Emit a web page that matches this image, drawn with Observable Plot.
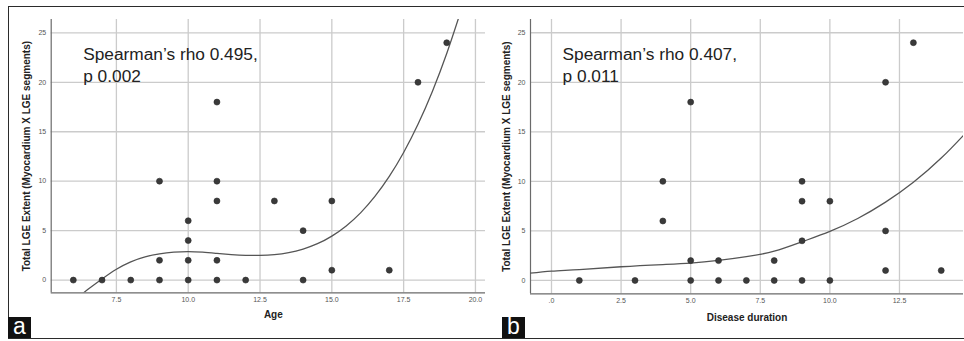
<!DOCTYPE html>
<html>
<head>
<meta charset="utf-8">
<script src="https://cdn.jsdelivr.net/npm/d3@7"></script>
<script src="https://cdn.jsdelivr.net/npm/@observablehq/plot@0.6"></script>
<style>
  html, body { margin: 0; padding: 0; background: #fff; }
  #fig { position: relative; width: 964px; height: 341px; overflow: hidden; font-family: "Liberation Sans", Arial, sans-serif; }
  #frame { position: absolute; left: 8px; top: 6px; width: 970px; height: 331px; border: 1.5px solid #2b2b2b; box-sizing: content-box; }
  .panel { position: absolute; top: 0; }
  .tag { position: absolute; top: 317px; width: 23px; height: 21px; background: #111; color: #fff;
         font: 23px "Liberation Sans", Arial, sans-serif; line-height: 18px; text-align: center; }
</style>
</head>
<body>
<div id="fig">
  <div id="frame"></div>
  <div id="pa" class="panel" style="left:0px"></div>
  <div id="pb" class="panel" style="left:485px"></div>
  <div class="tag" style="left:8px">a</div>
  <div class="tag" style="left:502px">b</div>
</div>
<script>
// ---- data: panel a (Age) ----
const ageX = [6, 7, 8, 9, 9, 9, 10, 10, 10, 10, 11, 11, 11, 11, 11, 12, 13, 14, 14, 15, 15, 17, 18, 19];
const ageY = [0, 0, 0, 0, 2, 10, 0, 2, 4, 6, 0, 2, 8, 10, 18, 0, 8, 0, 5, 1, 8, 1, 20, 24];
const ageFitX = [6.3, 6.5, 7, 7.5, 8, 8.5, 9, 9.5, 10, 10.5, 11, 11.5, 12, 12.5, 13, 13.5, 14, 14.5, 15, 15.5, 16, 16.5, 17, 17.5, 18, 18.5, 19, 19.5];
const ageFitY = [-1.45, -0.95, 0.12, 1.1, 1.85, 2.35, 2.65, 2.82, 2.88, 2.82, 2.7, 2.58, 2.5, 2.5, 2.58, 2.78, 3.14, 3.68, 4.45, 5.48, 6.8, 8.46, 10.48, 12.9, 15.75, 19.08, 22.91, 27.28];
const ageTicks = [7.5, 10, 12.5, 15, 17.5, 20];
const ageTickLabels = ["7.5", "10.0", "12.5", "15.0", "17.5", "20.0"];
const ageDomain = [5.23, 20.35];

// ---- data: panel b (Disease duration) ----
const durX = [1, 3, 4, 4, 5, 5, 5, 6, 6, 7, 8, 8, 9, 9, 9, 9, 10, 10, 12, 12, 12, 13, 14];
const durY = [0, 0, 10, 6, 0, 2, 18, 0, 2, 0, 0, 2, 0, 4, 8, 10, 0, 8, 1, 5, 20, 24, 1];
const durFitX = [-0.8, 0, 1, 2.5, 4, 5, 6, 7, 8, 9, 10, 11, 12, 13, 14, 14.8];
const durFitY = [0.72, 0.94, 1.1, 1.38, 1.6, 1.75, 2.02, 2.4, 2.95, 3.9, 4.95, 6.25, 7.9, 9.9, 12.35, 14.65];
const durTicks = [0, 2.5, 5, 7.5, 10, 12.5];
const durTickLabels = [".0", "2.5", "5.0", "7.5", "10.0", "12.5"];
const durDomain = [-0.754, 14.8];

// ---- shared ----
const yTicks = [0, 5, 10, 15, 20, 25];
const yTickLabels = ["0", "5", "10", "15", "20", "25"];
const yTitle = "Total LGE Extent (Myocardium X LGE segments)";
const notesA = ["Spearman\u2019s rho 0.495,\np 0.002"];
const notesB = ["Spearman\u2019s rho 0.407,\np 0.011"];

const FONT = "'Liberation Sans', Arial, sans-serif";

function panel({xs, ys, fx, fy, xTicks, xLabels, xDomain, yDomain, xTitle, note, width, marginLeft, marginRight, marginBottom, titleDx, titleDy}) {
  const pts = xs.map((x, i) => ({x, y: ys[i]}));
  const fit = fx.map((x, i) => ({x, y: fy[i]}));
  return Plot.plot({
    width, height: 341,
    marginTop: 19, marginBottom, marginLeft, marginRight,
    style: {fontFamily: FONT, background: "transparent", overflow: "visible"},
    x: {domain: xDomain},
    y: {domain: yDomain},
    marks: [
      Plot.gridX(xTicks, {stroke: "#cbcbcb", strokeOpacity: 1, strokeWidth: 1.3}),
      Plot.gridY(yTicks, {stroke: "#cbcbcb", strokeOpacity: 1, strokeWidth: 1.3}),
      Plot.ruleX([xDomain[0]], {stroke: "#6a6a6a", strokeWidth: 1.2}),
      Plot.ruleY([yDomain[0]], {stroke: "#6a6a6a", strokeWidth: 1.2}),
      Plot.axisX(xTicks, {tickSize: 0, tickPadding: 4, fontSize: 7, fill: "#555", label: null,
        tickFormat: d => xLabels[xTicks.indexOf(d)]}),
      Plot.axisY(yTicks, {tickSize: 0, tickPadding: 5, fontSize: 7, fill: "#555", label: null,
        tickFormat: d => yTickLabels[yTicks.indexOf(d)]}),
      Plot.line(fit, {x: "x", y: "y", curve: "natural", stroke: "#555", strokeWidth: 1.3, clip: true}),
      Plot.dot(pts, {x: "x", y: "y", r: 3, fill: "#3a3a3a", stroke: "#2a2a2a", strokeWidth: 0.6}),
      Plot.text([xTitle], {text: d => d, frameAnchor: "bottom", textAnchor: "middle", dx: titleDx, dy: titleDy, fontWeight: "bold", fontSize: 10, fill: "#222"}),
      Plot.text([yTitle], {text: d => d, frameAnchor: "left", textAnchor: "middle", rotate: -90, dx: -24, fontWeight: "bold", fontSize: 10, fill: "#222"}),
      Plot.text(note, {text: d => d, frameAnchor: "top-left", textAnchor: "start", lineAnchor: "top",
        dx: 32, dy: 24.3, fontSize: 17.3, lineHeight: 1.29, fill: "#222"})
    ]
  });
}

document.getElementById("pa").append(panel({
  xs: ageX, ys: ageY, fx: ageFitX, fy: ageFitY,
  xTicks: ageTicks, xLabels: ageTickLabels, xDomain: ageDomain, yDomain: [-1.285, 26.35],
  xTitle: "Age", note: notesA, width: 490, marginLeft: 50.7, marginRight: 5, marginBottom: 48.7,
  titleDx: 5, titleDy: 25.5
}));
document.getElementById("pb").append(panel({
  xs: durX, ys: durY, fx: durFitX, fy: durFitY,
  xTicks: durTicks, xLabels: durTickLabels, xDomain: durDomain, yDomain: [-1.35, 26.34],
  xTitle: "Disease duration", note: notesB, width: 479, marginLeft: 45, marginRight: 1, marginBottom: 47.7,
  titleDx: 0, titleDy: 27
}));
</script>
</body>
</html>
